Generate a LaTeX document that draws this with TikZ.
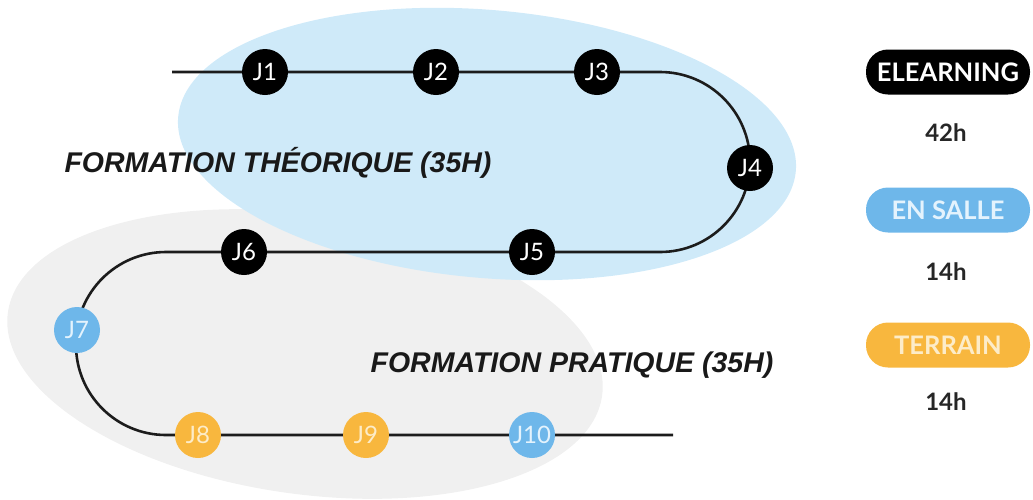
\documentclass[tikz,border=0pt]{standalone}
\usepackage{fontspec}
\setmainfont{Lato}
\newfontfamily\titlefont{Liberation Sans}
\definecolor{bluebg}{RGB}{207,234,249}
\definecolor{graybg}{RGB}{240,240,240}
\definecolor{trackc}{RGB}{28,28,28}
\definecolor{nblue}{RGB}{110,183,234}
\definecolor{nbluet}{RGB}{228,243,253}
\definecolor{norange}{RGB}{248,183,62}
\definecolor{noranget}{RGB}{253,236,200}
\begin{document}
\begin{tikzpicture}[x=1pt,y=-1pt,
  track/.style={line width=2.6pt, draw=trackc, rounded corners=90pt},
  day/.style={circle, minimum size=46pt, inner sep=0pt, font=\fontsize{24}{24}\selectfont},
  dblack/.style={day, fill=black, text=white},
  dblue/.style={day, fill=nblue, text=nbluet},
  dorange/.style={day, fill=norange, text=noranget},
  pill/.style={rectangle, rounded corners=22pt, minimum width=164pt, minimum height=45pt, inner sep=0pt, font=\bfseries\fontsize{25.5}{25.5}\selectfont},
  hours/.style={font=\bfseries\fontsize{24}{24}\selectfont, text=black!85},
  title/.style={font=\titlefont\bfseries\itshape\fontsize{28.5}{30}\selectfont, text=black!90}]
\useasboundingbox (0,0) rectangle (1033,499);
% background blobs
\fill[graybg, rotate around={-8:(305,354)}] (305,354) ellipse [x radius=300pt, y radius=140pt];
\fill[bluebg, rotate around={-5:(487,144)}] (487,144) ellipse [x radius=310pt, y radius=134pt];
% track
\coordinate (s) at (172,72);
\coordinate (c1) at (750,72);
\coordinate (c2) at (750,252);
\coordinate (c3) at (76,252);
\coordinate (c4) at (76,435);
\coordinate (e) at (673,435);
\draw[track] (s) -- (c1) -- (c2) -- (c3) -- (c4) -- (e);
% days
\node[dblack] (J1) at (265,72) {J1};
\node[dblack] (J2) at (436,72) {J2};
\node[dblack] (J3) at (597,72) {J3};
\node[dblack] (J4) at (750,168) {J4};
\node[dblack] (J5) at (532,252) {J5};
\node[dblack] (J6) at (244,252) {J6};
\node[dblue] (J7) at (77,330) {J7};
\node[dorange] (J8) at (198,435) {J8};
\node[dorange] (J9) at (366,435) {J9};
\node[dblue] (J10) at (532,435) {J10};
% titles
\node[title] (t1) at (278,163) {FORMATION THÉORIQUE (35H)};
\node[title] (t2) at (572,365) {FORMATION PRATIQUE (35H)};
% legend
\node[pill, fill=black, text=white] (l1) at (948,72) {ELEARNING};
\node[hours] (h1) at (946,133) {42h};
\node[pill, fill=nblue, text=nbluet] (l2) at (948,210) {EN SALLE};
\node[hours] (h2) at (946,272) {14h};
\node[pill, fill=norange, text=noranget] (l3) at (948,345) {TERRAIN};
\node[hours] (h3) at (946,402) {14h};
\end{tikzpicture}
\end{document}
